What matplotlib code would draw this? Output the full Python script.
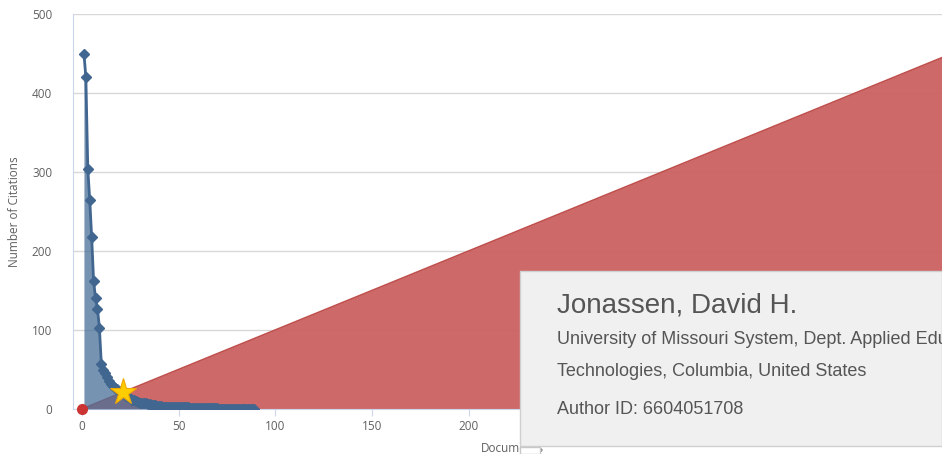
import matplotlib
matplotlib.use("Agg")
import matplotlib.pyplot as plt
from matplotlib.patches import Rectangle

# citations per document, sorted descending (documents 1..89)
citations = [450, 420, 304, 265, 218, 162, 140, 127, 103, 57,
             50, 45, 40, 35, 32, 29, 27, 25, 23, 22,
             21, 19, 17, 15, 14, 12, 11, 10, 9, 8,
             8, 7, 7, 6, 6, 5, 5, 5, 4, 4,
             4, 3, 3, 3, 3, 2, 2, 2, 2, 2,
             2, 2, 2, 2, 2, 1, 1, 1, 1, 1,
             1, 1, 1, 1, 1, 1, 1, 1, 1, 1,
             0, 0, 0, 0, 0, 0, 0, 0, 0, 0,
             0, 0, 0, 0, 0, 0, 0, 0, 0]
documents = list(range(1, len(citations) + 1))
h_index = 21
h_line_x = [0, 460]
h_line_y = [0, 460]
y_ticks = [0, 100, 200, 300, 400, 500]
x_ticks = [0, 50, 100, 150, 200, 250, 300, 350, 400]

author_name = "Jonassen, David H."
affil_1 = "University of Missouri System, Dept. Applied Educational"
affil_2 = "Technologies, Columbia, United States"
author_id = "Author ID: 6604051708"

W, H = 942, 454
fig = plt.figure(figsize=(W / 100, H / 100), dpi=100)
ax = fig.add_axes([73 / W, (H - 409) / H, 1 - 73 / W, (409 - 14) / H])

axis_col = "#ccd6eb"
lab_col = "#606060"

# h-index triangle
ax.fill_between(h_line_x, 0, h_line_y, color="#cc6161", alpha=0.95, lw=0, zorder=2)
ax.plot(h_line_x, h_line_y, color="#c0504d", lw=1.3, zorder=3)

# citations curve
ax.fill_between(documents, 0, citations, color="#4a6f99", alpha=0.75, lw=0, zorder=4)
ax.plot(documents, citations, color="#41668f", lw=2, marker="D", ms=5.5,
        zorder=5)

ax.plot([h_index], [h_index], marker="*", ms=20, color="#ffcc00",
        markeredgecolor="#f0a800", mew=0.8, zorder=7)
ax.plot([0], [0], marker="o", ms=7, color="#cc3333", zorder=8, clip_on=False)

ax.set_xlim(-4.65, 444.7)
ax.set_ylim(0, 500)
ax.set_yticks(y_ticks)
ax.set_xticks(x_ticks)
ax.yaxis.grid(True, color="#d8d8d8", lw=1)
ax.set_axisbelow(True)
for s in ["top", "right"]:
    ax.spines[s].set_visible(False)
ax.spines["left"].set_color(axis_col)
ax.spines["bottom"].set_color(axis_col)
ax.tick_params(axis="y", length=0, pad=15, labelsize=8.5, labelcolor=lab_col)
ax.tick_params(axis="x", length=5, color=axis_col, pad=3, labelsize=8.5,
               labelcolor=lab_col)
for t in ax.get_xticklabels() + ax.get_yticklabels():
    t.set_fontfamily("Open Sans")
ax.set_ylabel("Number of Citations", fontsize=8.5, color=lab_col,
              family="Open Sans", labelpad=8)

fig.text(481 / W, 1 - 449 / H, "Documents", fontsize=8.5, color=lab_col,
         family="Open Sans", va="center", ha="left")

# tooltip box
fig.patches.append(Rectangle((520 / W, 1 - 446 / H), (W - 520) / W, 175 / H,
                             transform=fig.transFigure, facecolor="#f0f0f0",
                             edgecolor="#d0d0d0", lw=1, zorder=10))
fig.patches.append(Rectangle((520 / W, 0), 20 / W, 7 / H,
                             transform=fig.transFigure, facecolor="white",
                             edgecolor="#c8c8c8", lw=1, zorder=10))
tx = 557 / W
fig.text(tx, 1 - 305 / H, author_name, fontsize=20, color="#555555",
         family="Liberation Sans", va="center", zorder=11)
fig.text(tx, 1 - 340 / H, affil_1, fontsize=13, color="#555555",
         family="Liberation Sans", va="center", zorder=11)
fig.text(tx, 1 - 371 / H, affil_2, fontsize=13, color="#555555",
         family="Liberation Sans", va="center", zorder=11)
fig.text(tx, 1 - 410 / H, author_id, fontsize=13, color="#555555",
         family="Liberation Sans", va="center", zorder=11)

fig.savefig("out.png", dpi=100)
